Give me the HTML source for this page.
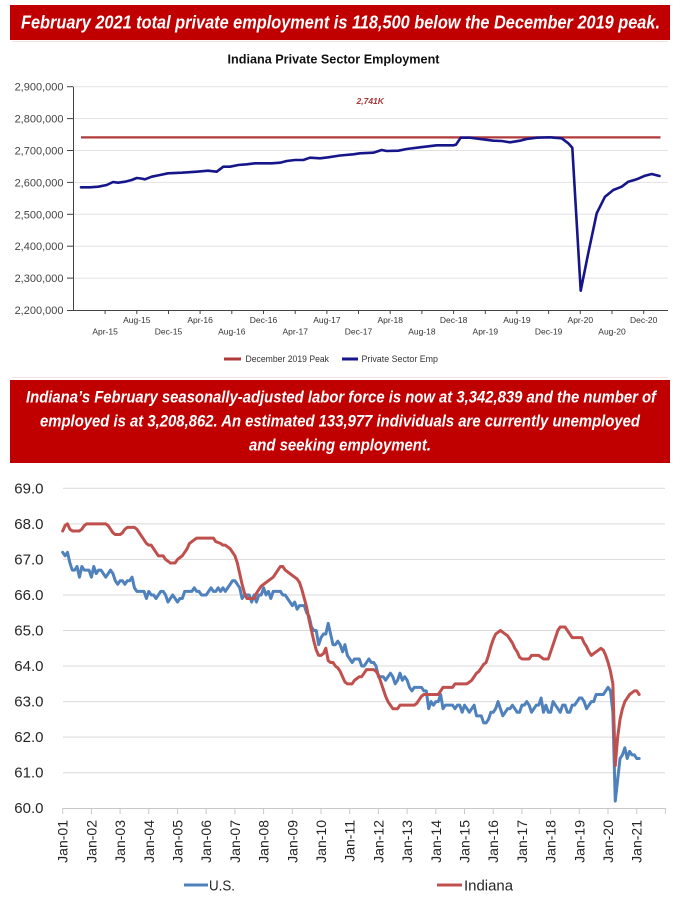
<!DOCTYPE html>
<html>
<head>
<meta charset="utf-8">
<style>
  html, body { margin:0; padding:0; background:#ffffff; }
  body { width:681px; height:905px; overflow:hidden; }
  svg { display:block; }
  .sans { font-family: "Liberation Sans", "DejaVu Sans", sans-serif; }
</style>
</head>
<body>
<svg width="681" height="905" viewBox="0 0 681 905" xmlns="http://www.w3.org/2000/svg" class="sans">
  <rect x="0" y="0" width="681" height="905" fill="#ffffff"/>

  <!-- Banner 1 -->
  <rect x="10" y="5" width="660" height="35" fill="#c00000"/>
  <text x="21" y="28.5" font-size="18" font-weight="bold" font-style="italic" fill="#ffffff" textLength="639" lengthAdjust="spacingAndGlyphs">February 2021 total private employment is 118,500 below the December 2019 peak.</text>

  <!-- faint box lines -->
  <line x1="12" y1="41.5" x2="668" y2="41.5" stroke="#f9e0e0" stroke-width="1"/>
  <line x1="12" y1="377.5" x2="668" y2="377.5" stroke="#f9e0e0" stroke-width="1"/>

  <!-- Top chart title -->
  <text x="227.5" y="63.5" font-size="13" font-weight="bold" fill="#111111" textLength="212" lengthAdjust="spacingAndGlyphs">Indiana Private Sector Employment</text>

  <!-- Top chart gridlines -->
  <g stroke="#e2e2e2" stroke-width="1">
    <line x1="73" y1="86.7" x2="668" y2="86.7"/>
    <line x1="73" y1="118.6" x2="668" y2="118.6"/>
    <line x1="73" y1="150.5" x2="668" y2="150.5"/>
    <line x1="73" y1="182.4" x2="668" y2="182.4"/>
    <line x1="73" y1="214.3" x2="668" y2="214.3"/>
    <line x1="73" y1="246.2" x2="668" y2="246.2"/>
    <line x1="73" y1="278.1" x2="668" y2="278.1"/>
  </g>
  <!-- Top axes -->
  <g stroke="#444444" stroke-width="1">
    <line x1="73.5" y1="86.7" x2="73.5" y2="310"/>
    <line x1="73" y1="310.5" x2="668" y2="310.5"/>
    <line x1="67" y1="86.7" x2="73" y2="86.7"/>
    <line x1="67" y1="118.6" x2="73" y2="118.6"/>
    <line x1="67" y1="150.5" x2="73" y2="150.5"/>
    <line x1="67" y1="182.4" x2="73" y2="182.4"/>
    <line x1="67" y1="214.3" x2="73" y2="214.3"/>
    <line x1="67" y1="246.2" x2="73" y2="246.2"/>
    <line x1="67" y1="278.1" x2="73" y2="278.1"/>
    <line x1="67" y1="310.5" x2="73" y2="310.5"/>
    <!-- x ticks -->
    <line x1="105.1" y1="310" x2="105.1" y2="314"/>
    <line x1="136.8" y1="310" x2="136.8" y2="314"/>
    <line x1="168.5" y1="310" x2="168.5" y2="314"/>
    <line x1="200.1" y1="310" x2="200.1" y2="314"/>
    <line x1="231.8" y1="310" x2="231.8" y2="314"/>
    <line x1="263.5" y1="310" x2="263.5" y2="314"/>
    <line x1="295.2" y1="310" x2="295.2" y2="314"/>
    <line x1="326.9" y1="310" x2="326.9" y2="314"/>
    <line x1="358.5" y1="310" x2="358.5" y2="314"/>
    <line x1="390.2" y1="310" x2="390.2" y2="314"/>
    <line x1="421.9" y1="310" x2="421.9" y2="314"/>
    <line x1="453.6" y1="310" x2="453.6" y2="314"/>
    <line x1="485.3" y1="310" x2="485.3" y2="314"/>
    <line x1="516.9" y1="310" x2="516.9" y2="314"/>
    <line x1="548.6" y1="310" x2="548.6" y2="314"/>
    <line x1="580.3" y1="310" x2="580.3" y2="314"/>
    <line x1="612.0" y1="310" x2="612.0" y2="314"/>
    <line x1="643.7" y1="310" x2="643.7" y2="314"/>
  </g>
  <!-- Top y labels -->
  <g font-size="11" fill="#444444" text-anchor="end">
    <text x="63.5" y="90.7">2,900,000</text>
    <text x="63.5" y="122.6">2,800,000</text>
    <text x="63.5" y="154.5">2,700,000</text>
    <text x="63.5" y="186.4">2,600,000</text>
    <text x="63.5" y="218.3">2,500,000</text>
    <text x="63.5" y="250.2">2,400,000</text>
    <text x="63.5" y="282.1">2,300,000</text>
    <text x="63.5" y="314.0">2,200,000</text>
  </g>
  <!-- Top x labels -->
  <g font-size="8.5" fill="#333333" text-anchor="middle">
    <text x="105.1" y="334.5">Apr-15</text>
    <text x="136.8" y="323">Aug-15</text>
    <text x="168.5" y="334.5">Dec-15</text>
    <text x="200.1" y="323">Apr-16</text>
    <text x="231.8" y="334.5">Aug-16</text>
    <text x="263.5" y="323">Dec-16</text>
    <text x="295.2" y="334.5">Apr-17</text>
    <text x="326.9" y="323">Aug-17</text>
    <text x="358.5" y="334.5">Dec-17</text>
    <text x="390.2" y="323">Apr-18</text>
    <text x="421.9" y="334.5">Aug-18</text>
    <text x="453.6" y="323">Dec-18</text>
    <text x="485.3" y="334.5">Apr-19</text>
    <text x="516.9" y="323">Aug-19</text>
    <text x="548.6" y="334.5">Dec-19</text>
    <text x="580.3" y="323">Apr-20</text>
    <text x="612.0" y="334.5">Aug-20</text>
    <text x="643.7" y="323">Dec-20</text>
  </g>
  <!-- Peak line -->
  <line x1="81" y1="137.4" x2="660.5" y2="137.4" stroke="#b03a3a" stroke-width="2.2"/>
  <text x="356.5" y="104" font-size="8.5" font-weight="bold" font-style="italic" fill="#a83a3a">2,741K</text>
  <!-- Private sector employment -->
  <polyline fill="none" stroke="#16168a" stroke-width="2.6" stroke-linejoin="round" stroke-linecap="round"
    points="81,187.3 90,187.3 98.3,186.7 106.7,185 113,182 118,182.7 125,181.7 131.7,180 136.7,178 141,178.5 145,179.3 151.7,176.7 160,175 168,173.3 181.7,172.7 196.7,171.7 208,170.7 216.7,171.7 223.3,166.7 230,166.7 238.3,165 246.7,164.3 255,163.3 271.7,163.3 280,162.7 286.7,161 295,160 303.3,160 310,157.7 320,158.3 328.3,157.3 340,155.5 353.3,154.3 360,153.3 373.3,152.7 381.7,150 386.7,151 398.3,150.7 406.7,149 420,147.3 436.7,145.3 453.3,145.3 456,144.7 460.7,137.7 470,137.7 480,139 493.3,140.7 501.7,141 510,142.3 520,140.7 526.7,139 536.7,137.7 550,137.3 561.7,138.3 568.3,143.3 572.3,147.7 580.7,290.7 588.5,252 596.7,213.3 605,196.7 613.3,190 621.7,186.7 628.3,181.7 636.7,179.3 645,175.7 651.7,174 659.5,176"/>
  <!-- Top legend -->
  <line x1="224" y1="359" x2="241" y2="359" stroke="#b03a3a" stroke-width="3"/>
  <text x="245.5" y="362" font-size="8.8" fill="#333333" textLength="83.5" lengthAdjust="spacingAndGlyphs">December 2019 Peak</text>
  <line x1="342" y1="359" x2="358" y2="359" stroke="#16168a" stroke-width="3"/>
  <text x="361.5" y="362" font-size="8.8" fill="#333333" textLength="76.5" lengthAdjust="spacingAndGlyphs">Private Sector Emp</text>

  <!-- Banner 2 -->
  <rect x="10" y="380" width="660" height="83" fill="#c00000"/>
  <g font-size="16.5" font-weight="bold" font-style="italic" fill="#ffffff">
    <text x="26" y="402.5" textLength="630" lengthAdjust="spacingAndGlyphs">Indiana’s February seasonally-adjusted labor force is now at 3,342,839 and the number of</text>
    <text x="40" y="426.5" textLength="600" lengthAdjust="spacingAndGlyphs">employed is at 3,208,862. An estimated 133,977 individuals are currently unemployed</text>
    <text x="249" y="450.5" textLength="182" lengthAdjust="spacingAndGlyphs">and seeking employment.</text>
  </g>

  <!-- Bottom chart gridlines -->
  <g stroke="#d9d9d9" stroke-width="1">
    <line x1="63" y1="488.3" x2="665" y2="488.3"/>
    <line x1="63" y1="523.85" x2="665" y2="523.85"/>
    <line x1="63" y1="559.4" x2="665" y2="559.4"/>
    <line x1="63" y1="594.95" x2="665" y2="594.95"/>
    <line x1="63" y1="630.5" x2="665" y2="630.5"/>
    <line x1="63" y1="666.05" x2="665" y2="666.05"/>
    <line x1="63" y1="701.6" x2="665" y2="701.6"/>
    <line x1="63" y1="737.15" x2="665" y2="737.15"/>
    <line x1="63" y1="772.7" x2="665" y2="772.7"/>
  </g>
  <line x1="63" y1="808.5" x2="665.5" y2="808.5" stroke="#c8c8c8" stroke-width="1"/>
  <g stroke="#c8c8c8" stroke-width="1">
    <line x1="62.7" y1="808" x2="62.7" y2="814"/>
    <line x1="91.4" y1="808" x2="91.4" y2="814"/>
    <line x1="120.1" y1="808" x2="120.1" y2="814"/>
    <line x1="148.8" y1="808" x2="148.8" y2="814"/>
    <line x1="177.5" y1="808" x2="177.5" y2="814"/>
    <line x1="206.2" y1="808" x2="206.2" y2="814"/>
    <line x1="234.9" y1="808" x2="234.9" y2="814"/>
    <line x1="263.6" y1="808" x2="263.6" y2="814"/>
    <line x1="292.3" y1="808" x2="292.3" y2="814"/>
    <line x1="321.0" y1="808" x2="321.0" y2="814"/>
    <line x1="349.7" y1="808" x2="349.7" y2="814"/>
    <line x1="378.4" y1="808" x2="378.4" y2="814"/>
    <line x1="407.1" y1="808" x2="407.1" y2="814"/>
    <line x1="435.8" y1="808" x2="435.8" y2="814"/>
    <line x1="464.5" y1="808" x2="464.5" y2="814"/>
    <line x1="493.2" y1="808" x2="493.2" y2="814"/>
    <line x1="521.9" y1="808" x2="521.9" y2="814"/>
    <line x1="550.6" y1="808" x2="550.6" y2="814"/>
    <line x1="579.3" y1="808" x2="579.3" y2="814"/>
    <line x1="608.0" y1="808" x2="608.0" y2="814"/>
    <line x1="636.7" y1="808" x2="636.7" y2="814"/>
    <line x1="665.4" y1="808" x2="665.4" y2="814"/>
  </g>
  <!-- Bottom y labels -->
  <g font-size="15" fill="#262626" text-anchor="end">
    <text x="43.5" y="493.5">69.0</text>
    <text x="43.5" y="529">68.0</text>
    <text x="43.5" y="564.5">67.0</text>
    <text x="43.5" y="600">66.0</text>
    <text x="43.5" y="635.5">65.0</text>
    <text x="43.5" y="671">64.0</text>
    <text x="43.5" y="706.5">63.0</text>
    <text x="43.5" y="742">62.0</text>
    <text x="43.5" y="777.5">61.0</text>
    <text x="43.5" y="813">60.0</text>
  </g>
  <!-- Bottom x labels (rotated) -->
  <g font-size="14" fill="#262626" text-anchor="end">
    <text transform="translate(67.7,820) rotate(-90)">Jan-01</text>
    <text transform="translate(96.4,820) rotate(-90)">Jan-02</text>
    <text transform="translate(125.1,820) rotate(-90)">Jan-03</text>
    <text transform="translate(153.8,820) rotate(-90)">Jan-04</text>
    <text transform="translate(182.5,820) rotate(-90)">Jan-05</text>
    <text transform="translate(211.2,820) rotate(-90)">Jan-06</text>
    <text transform="translate(239.9,820) rotate(-90)">Jan-07</text>
    <text transform="translate(268.6,820) rotate(-90)">Jan-08</text>
    <text transform="translate(297.3,820) rotate(-90)">Jan-09</text>
    <text transform="translate(326.0,820) rotate(-90)">Jan-10</text>
    <text transform="translate(354.7,820) rotate(-90)">Jan-11</text>
    <text transform="translate(383.4,820) rotate(-90)">Jan-12</text>
    <text transform="translate(412.1,820) rotate(-90)">Jan-13</text>
    <text transform="translate(440.8,820) rotate(-90)">Jan-14</text>
    <text transform="translate(469.5,820) rotate(-90)">Jan-15</text>
    <text transform="translate(498.2,820) rotate(-90)">Jan-16</text>
    <text transform="translate(526.9,820) rotate(-90)">Jan-17</text>
    <text transform="translate(555.6,820) rotate(-90)">Jan-18</text>
    <text transform="translate(584.3,820) rotate(-90)">Jan-19</text>
    <text transform="translate(613.0,820) rotate(-90)">Jan-20</text>
    <text transform="translate(641.7,820) rotate(-90)">Jan-21</text>
  </g>

  <!-- U.S. series (data units: month index, rate) -->
  <polyline fill="none" stroke="#4f81bd" stroke-width="3" stroke-linejoin="round" stroke-linecap="round" vector-effect="non-scaling-stroke"
    transform="matrix(2.392 0 0 -35.55 62.7 2941.25)"
    points="0,67.2 1,67.1 2,67.2 3,66.9 4,66.7 5,66.7 6,66.8 7,66.5 8,66.8 9,66.7 10,66.7 11,66.7
12,66.5 13,66.8 14,66.6 15,66.7 16,66.7 17,66.6 18,66.5 19,66.6 20,66.7 21,66.6 22,66.4 23,66.3
24,66.4 25,66.4 26,66.3 27,66.4 28,66.4 29,66.5 30,66.2 31,66.1 32,66.1 33,66.1 34,66.1 35,65.9
36,66.1 37,66.0 38,66.0 39,65.9 40,66.0 41,66.1 42,66.1 43,66.0 44,65.8 45,65.9 46,66.0 47,65.9
48,65.8 49,65.9 50,65.9 51,66.1 52,66.1 53,66.1 54,66.1 55,66.2 56,66.1 57,66.1 58,66.0 59,66.0
60,66.0 61,66.1 62,66.2 63,66.1 64,66.1 65,66.2 66,66.1 67,66.2 68,66.1 69,66.2 70,66.3 71,66.4
72,66.4 73,66.3 74,66.2 75,65.9 76,66.0 77,66.0 78,66.0 79,65.8 80,66.0 81,65.8 82,66.0 83,66.0
84,66.2 85,66.0 86,66.1 87,65.9 88,66.1 89,66.1 90,66.1 91,66.1 92,66.0 93,66.0 94,65.9 95,65.8
96,65.7 97,65.8 98,65.6 99,65.7 100,65.7 101,65.7 102,65.5 103,65.4 104,65.1 105,65.0 106,65.0 107,64.6
108,64.8 109,64.9 110,64.9 111,65.2 112,64.9 113,64.6 114,64.6 115,64.7 116,64.6 117,64.4 118,64.6 119,64.3
120,64.2 121,64.1 122,64.2 123,64.2 124,64.2 125,64.0 126,64.0 127,64.1 128,64.2 129,64.1 130,64.1 131,64.0
132,63.7 133,63.7 134,63.7 135,63.6 136,63.7 137,63.8 138,63.7 139,63.5 140,63.6 141,63.8 142,63.6 143,63.7
144,63.6 145,63.4 146,63.3 147,63.4 148,63.4 149,63.4 150,63.4 151,63.3 152,63.3 153,62.8 154,63.0 155,62.9
156,63.0 157,63.0 158,63.2 159,62.8 160,62.9 161,62.9 162,62.9 163,62.9 164,62.8 165,62.9 166,62.9 167,62.7
168,62.9 169,62.8 170,62.7 171,62.8 172,62.9 173,62.6 174,62.6 175,62.6 176,62.4 177,62.4 178,62.5 179,62.7
180,62.7 181,62.8 182,63.0 183,62.8 184,62.6 185,62.7 186,62.8 187,62.8 188,62.9 189,62.8 190,62.7 191,62.7
192,62.9 193,62.9 194,63.0 195,62.9 196,62.7 197,62.8 198,62.9 199,62.9 200,63.1 201,62.7 202,62.9 203,62.7
204,62.7 205,63.0 206,62.9 207,62.8 208,62.7 209,62.9 210,62.9 211,62.7 212,62.7 213,62.9 214,62.9 215,63.0
216,63.1 217,63.1 218,63.0 219,62.8 220,62.9 221,63.0 222,63.0 223,63.2 224,63.2 225,63.2 226,63.2 227,63.3
228,63.4 229,63.3 230,62.7 231,60.2 232,60.8 233,61.4 234,61.5 235,61.7 236,61.4 237,61.6 238,61.5 239,61.5
240,61.4 241,61.4"/>

  <!-- Indiana series -->
  <polyline fill="none" stroke="#c0504d" stroke-width="3" stroke-linejoin="round" stroke-linecap="round" vector-effect="non-scaling-stroke"
    transform="matrix(2.392 0 0 -35.55 62.7 2941.25)"
    points="0,67.8 1,67.95 2,68.0 3,67.85 4,67.8 7,67.8 8,67.85 9,67.95 10,68.0 18,68.0 19,67.95 20,67.85 21,67.75 22,67.7 24,67.7 25,67.75 26,67.85 27,67.9 30,67.9 31,67.85 32,67.75 33,67.65 34,67.55 35,67.45 36,67.4 37,67.4 38,67.3 39,67.2 40,67.1 42,67.1 43,67.0 44,66.95 45,66.9 47,66.9 48,67.0 49,67.05 50,67.1 51,67.2 52,67.3 53,67.45 54,67.5 55,67.55 56,67.6 63,67.6 64,67.5 66,67.45 67,67.4 68,67.4 69,67.35 70,67.3 71,67.2 72,67.1 73,66.9 74,66.6 75,66.3 76,66.05 77,65.9 80,65.9 81,66.05 82,66.15 83,66.25 84,66.3 85,66.35 86,66.4 87,66.45 88,66.5 89,66.6 90,66.7 91,66.8 92,66.8 93,66.7 94,66.65 95,66.6 96,66.55 97,66.5 98,66.45 99,66.35 100,66.15 101,65.9 102,65.65 103,65.3 104,65.0 105,64.7 106,64.45 107,64.3 108,64.3 109,64.35 110,64.5 111,64.15 112,64.1 113,64.1 114,64.0 115,63.95 116,63.85 117,63.7 118,63.55 119,63.5 121,63.5 122,63.6 123,63.65 124,63.7 125,63.7 126,63.8 127,63.9 130,63.9 131,63.85 132,63.75 133,63.55 134,63.35 135,63.15 136,63.0 137,62.9 138,62.8 140,62.8 141,62.9 147,62.9 148,62.95 149,63.05 150,63.15 151,63.2 157,63.2 158,63.3 159,63.4 163,63.4 164,63.5 169,63.5 170,63.55 171,63.6 172,63.7 173,63.8 174,63.85 175,63.95 176,64.05 177,64.1 178,64.3 179,64.55 180,64.75 181,64.9 182,64.95 183,65.0 184,64.95 185,64.9 186,64.85 187,64.75 188,64.65 189,64.5 190,64.4 191,64.25 192,64.2 195,64.2 196,64.3 199,64.3 200,64.25 201,64.2 203,64.2 204,64.4 205,64.6 206,64.8 207,65.0 208,65.1 210,65.1 211,65.0 212,64.9 213,64.8 217,64.8 218,64.65 219,64.55 220,64.4 221,64.3 222,64.35 223,64.4 224,64.45 225,64.5 226,64.45 227,64.3 228,64.1 229,63.85 230,63.5 231,61.2 232,62.0 233,62.5 234,62.8 235,63.0 236,63.1 237,63.2 238,63.25 239,63.3 240,63.3 241,63.2"/>

  <!-- Bottom legend -->
  <line x1="184" y1="885" x2="208" y2="885" stroke="#4f81bd" stroke-width="3"/>
  <text x="209" y="890.5" font-size="15" fill="#262626" textLength="26" lengthAdjust="spacingAndGlyphs">U.S.</text>
  <line x1="437" y1="885" x2="462" y2="885" stroke="#c0504d" stroke-width="3"/>
  <text x="464" y="890.5" font-size="15" fill="#262626" textLength="49" lengthAdjust="spacingAndGlyphs">Indiana</text>
</svg>
</body>
</html>
